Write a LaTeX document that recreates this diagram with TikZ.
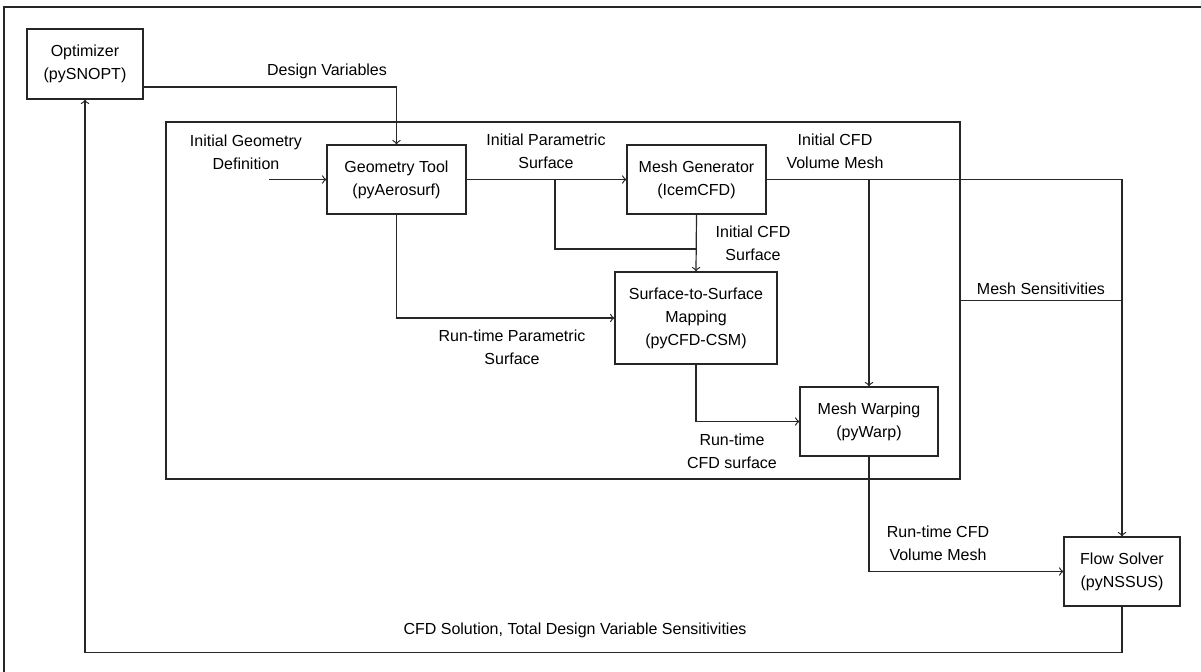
\documentclass[tikz,border=0pt]{standalone}
\usepackage{fontspec}
\setmainfont{Liberation Sans}
\usepackage{tikz}
\usepackage{xcolor}

\begin{document}
\begin{tikzpicture}[x=0.5pt, y=-0.5pt, line width=0.6pt, draw=black!85,
  font=\fontsize{8}{11.5}\selectfont,
  blk/.style={draw, align=center, inner sep=0pt},
  lbl/.style={align=center, inner sep=0pt}]
  \useasboundingbox (0,0) rectangle (1201,672);
  \draw (4,672) -- (4,7) -- (1201,7);
  \node[draw, minimum width=397pt, minimum height=178.5pt] (inner) at (563,300.5) {};
  \node[blk, minimum width=58pt, minimum height=35pt] (opt) at (85,64) {Optimizer\\(pySNOPT)};
  \node[blk, minimum width=69.5pt, minimum height=34.5pt] (geo) at (396.5,179.5) {Geometry Tool\\(pyAerosurf)};
  \node[blk, minimum width=69.5pt, minimum height=34.5pt] (mesh) at (696.5,179.5) {Mesh Generator\\(IcemCFD)};
  \node[blk, minimum width=81pt, minimum height=46pt] (map) at (696,318) {Surface-to-Surface\\Mapping\\(pyCFD-CSM)};
  \node[blk, minimum width=69pt, minimum height=34.5pt] (warp) at (869,421.5) {Mesh Warping\\(pyWarp)};
  \node[blk, minimum width=58pt, minimum height=34.5pt] (flow) at (1122,571.5) {Flow Solver\\(pyNSSUS)};
  \coordinate (igd) at (269,179.5); \coordinate (br) at (555,179.5); \coordinate (jn) at (696,249);
  \draw[->] ([yshift=-11.5pt]opt.east) -| (geo.north);
  \draw[->] (igd) -- (geo.west);
  \draw[->] (geo.east) -- (mesh.west);
  \draw (br) |- (jn);
  \draw[->] (mesh.south) -- (map.north);
  \draw[->] (geo.south) |- (map.west);
  \draw[->] (map.south) |- (warp.west);
  \draw[->] (mesh.east) -| (flow.north);
  \draw[->] (warp.north |- mesh.east) -- (warp.north);
  \draw (inner.east) -- (inner.east -| flow.north);
  \draw[->] (warp.south) |- (flow.west);
  \draw[->] (flow.south) -- ++(0,46) -| (opt.south);
  \node[lbl] (ldv) at (327,71) {Design Variables};
  \node[lbl] (ligd) at (246,152) {Initial Geometry\\Definition};
  \node[lbl] (lips) at (546,151) {Initial Parametric\\Surface};
  \node[lbl] (lics) at (753,243) {Initial CFD\\Surface};
  \node[lbl] (livm) at (835,151) {Initial CFD\\Volume Mesh};
  \node[lbl] (lms) at (1041,289) {Mesh Sensitivities};
  \node[lbl] (lrps) at (512,347) {Run-time Parametric\\Surface};
  \node[lbl] (lrcs) at (732,451) {Run-time\\CFD surface};
  \node[lbl] (lrvm) at (938,543) {Run-time CFD\\Volume Mesh};
  \node[lbl] (lsol) at (575,630) {CFD Solution, Total Design Variable Sensitivities};
\end{tikzpicture}
\end{document}
